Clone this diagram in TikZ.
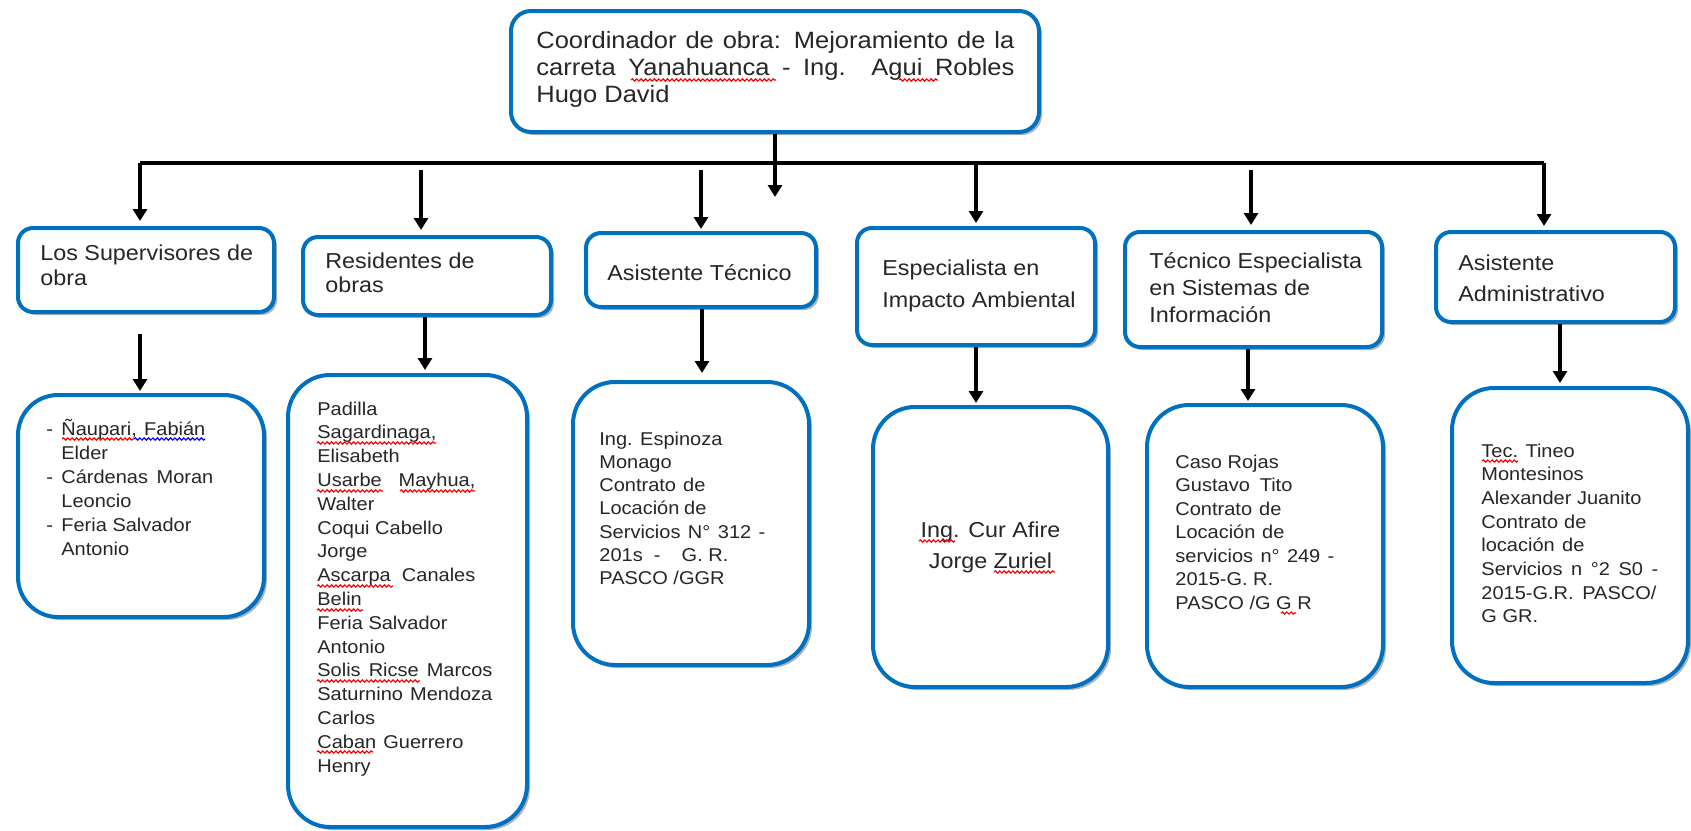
\documentclass[tikz,border=0pt]{standalone}
\usepackage{fontspec}
\setmainfont{Liberation Sans}[FakeStretch=1.08]
\usetikzlibrary{arrows.meta,shadows,decorations.pathmorphing}
\definecolor{bord}{RGB}{0,112,192}
\definecolor{txt}{RGB}{38,38,38}
\newcommand\ml[2]{\vtop{\baselineskip=#1\relax\lineskiplimit=-50pt\lineskip=0pt\halign{##\hfil\cr#2\crcr}}}
\newcommand\mlc[2]{\vtop{\baselineskip=#1\relax\lineskiplimit=-50pt\lineskip=0pt\halign{\hfil##\hfil\cr#2\crcr}}}
\newcommand\js[2]{\makebox[#1pt][s]{#2}}
\newcommand\fA{\fontsize{11.8pt}{13pt}\selectfont}
\newcommand\fB{\fontsize{10.8pt}{12pt}\selectfont}
\newcommand\fC{\fontsize{9.26pt}{11pt}\selectfont}
\tikzset{
  orgbox/.style={draw=bord, line width=2pt, fill=white, inner sep=0pt, rounded corners=#1,
    drop shadow={shadow xshift=1.5pt, shadow yshift=-1.5pt, opacity=0.3, fill=black}},
  sz/.style 2 args={minimum width=#1*0.5pt, minimum height=#2*0.5pt},
  arr/.style={line width=1.6pt, -{Triangle[width=7pt,length=6pt]}, black},
  busline/.style={line width=1.6pt, black},
  lbl/.style={inner sep=0pt, text=txt, anchor=base west},
  squig/.style={draw=red, line width=0.6pt, decorate, decoration={snake, amplitude=0.55pt, segment length=2.2pt}},
  squigb/.style={squig, draw=blue}
}
\begin{document}
\begin{tikzpicture}[x=0.5pt,y=-0.5pt]
\useasboundingbox (0,0) rectangle (1691,830);
% boxes
\node[orgbox=10pt, sz={528}{121}] (top) at (775,71.5) {};
\node[orgbox=7.5pt, sz={256}{84}] (sup) at (146,270) {};
\node[orgbox=7.5pt, sz={248}{78}] (res) at (427,276) {};
\node[orgbox=7.5pt, sz={230}{74}] (ast) at (701,270) {};
\node[orgbox=7.5pt, sz={238}{117}] (esp) at (976,286.5) {};
\node[orgbox=7.5pt, sz={257}{115}] (tec) at (1253.5,289.5) {};
\node[orgbox=7.5pt, sz={239}{90}] (adm) at (1555.5,277) {};
\node[orgbox=20pt, sz={246}{222}] (n1) at (141,506) {};
\node[orgbox=21pt, sz={239}{452}] (n2) at (407.5,601) {};
\node[orgbox=21pt, sz={236}{283}] (n3) at (691,523.5) {};
\node[orgbox=21pt, sz={235}{280}] (n4) at (990.5,547) {};
\node[orgbox=21pt, sz={236}{282}] (n5) at (1265,546) {};
\node[orgbox=21pt, sz={236}{295}] (n6) at (1570,535.5) {};
% bus
\coordinate (topend) at (775,197);
\coordinate (busL) at (140,163);
\coordinate (busR) at (1544,163);
\coordinate (d1) at (140,163);
\coordinate (d2) at (421,170);
\coordinate (d3) at (701,170);
\coordinate (d4) at (976,163);
\coordinate (d5) at (1251,170);
\coordinate (d6) at (1544,163);
\coordinate (e1) at (140,0);
\coordinate (e2) at (425,0);
\coordinate (e3) at (702,0);
\coordinate (e4) at (976,0);
\coordinate (e5) at (1248,0);
\coordinate (e6) at (1560,0);
\draw[arr] (top.south) -- (topend);
\draw[busline] (busL) -- (busR);
\draw[arr, shorten >=2.5pt] (d1) -- (sup.north -| d1);
\draw[arr, shorten >=2.5pt] (d2) -- (res.north -| d2);
\draw[arr, shorten >=1pt] (d3) -- (ast.north -| d3);
\draw[arr, shorten >=1.5pt] (d4) -- (esp.north -| d4);
\draw[arr, shorten >=2.5pt] (d5) -- (tec.north -| d5);
\draw[arr, shorten >=2pt] (d6) -- (adm.north -| d6);
\draw[arr, shorten >=1pt] ([yshift=-10pt]sup.south -| e1) -- (n1.north -| e1);
\draw[arr, shorten >=1.5pt] (res.south -| e2) -- (n2.north -| e2);
\draw[arr, shorten >=3.5pt] (ast.south -| e3) -- (n3.north -| e3);
\draw[arr, shorten >=1pt] (esp.south -| e4) -- (n4.north -| e4);
\draw[arr, shorten >=1pt] (tec.south -| e5) -- (n5.north -| e5);
\draw[arr, shorten >=1.5pt] (adm.south -| e6) -- (n6.north -| e6);
% texts
\node[lbl] (ttop) at (536,48) {\fA\ml{13.5pt}{\js{239}{Coordinador de obra: Mejoramiento de la}\cr \js{239}{carreta Yanahuanca - Ing. Agui Robles}\cr Hugo David}};
\node[lbl] (tsup) at (40,260) {\fB\ml{12.5pt}{Los Supervisores de\cr obra}};
\node[lbl] (tres) at (325,268) {\fB\ml{12pt}{Residentes de\cr obras}};
\node[lbl] (tast) at (607,280) {\fB Asistente Técnico};
\node[lbl] (tesp) at (882,275) {\fB\ml{16pt}{Especialista en\cr Impacto Ambiental}};
\node[lbl] (ttec) at (1149,268) {\fB\ml{13.5pt}{Técnico Especialista\cr en Sistemas de\cr Información}};
\node[lbl] (tadm) at (1458,270) {\fB\ml{15.5pt}{Asistente\cr Administrativo}};
\node[lbl] (tn1) at (46,435) {\fC\ml{12pt}{\makebox[7.5pt][l]{-}\js{72}{Ñaupari, Fabián}\cr \hspace*{7.5pt}Elder\cr \makebox[7.5pt][l]{-}\js{76}{Cárdenas Moran}\cr \hspace*{7.5pt}Leoncio\cr \makebox[7.5pt][l]{-}Feria Salvador\cr \hspace*{7.5pt}Antonio}};
\node[lbl] (tn2) at (317,415) {\fC\ml{11.9pt}{Padilla\cr Sagardinaga,\cr Elisabeth\cr \js{79}{Usarbe Mayhua,}\cr Walter\cr Coqui Cabello\cr Jorge\cr \js{79}{Ascarpa Canales}\cr Belin\cr Feria Salvador\cr Antonio\cr \js{87.5}{Solis Ricse Marcos}\cr \js{87.5}{Saturnino Mendoza}\cr Carlos\cr \js{73}{Caban Guerrero}\cr Henry}};
\node[lbl] (tn3) at (599,445) {\fC\ml{11.65pt}{Ing. Espinoza\cr Monago\cr \js{53}{Contrato de}\cr \js{53.5}{Locación de}\cr \js{83}{Servicios N° 312 -}\cr \makebox[64.5pt][l]{201s\ \ -\hfill G.~R.}\cr PASCO /GGR}};
\node[inner sep=0pt, text=txt, anchor=base] (tn4) at (990.5,537) {\fB\mlc{15.5pt}{Ing. Cur Afire\cr Jorge Zuriel}};
\node[lbl] (tn5) at (1175,468) {\fC\ml{11.75pt}{Caso Rojas\cr \js{58.5}{Gustavo Tito}\cr \js{53}{Contrato de}\cr \js{54.5}{Locación de}\cr \js{79.5}{servicios n° 249 -}\cr 2015-G. R.\cr PASCO /G G R}};
\node[lbl] (tn6) at (1481,457) {\fC\ml{11.85pt}{Tec. Tineo\cr Montesinos\cr Alexander Juanito\cr \js{52.5}{Contrato de}\cr \js{51.5}{locación de}\cr \js{88.5}{Servicios n °2 S0 -}\cr \js{87.5}{2015-G.R. PASCO/}\cr G GR.}};
% spell-check marks
\path[squig] (631,80) -- (776,80);
\path[squig] (899,80) -- (938,80);
\path[squig] (62,439) -- (134,439);
\path[squigb] (134,439) -- (205,439);
\path[squig] (317,443) -- (436,443);
\path[squig] (317,491) -- (383,491);
\path[squig] (400,491) -- (475,491);
\path[squig] (317,586) -- (393,586);
\path[squig] (317,610) -- (363,610);
\path[squig] (317,681) -- (420,681);
\path[squig] (317,752) -- (373,752);
\path[squig] (919,541) -- (955,541);
\path[squig] (994,572) -- (1055,572);
\path[squig] (1281,613) -- (1296,613);
\path[squig] (1482,461) -- (1518,461);
\end{tikzpicture}
\end{document}
